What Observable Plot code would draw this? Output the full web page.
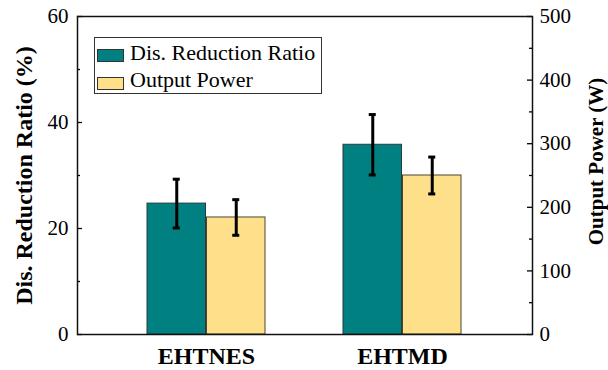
<!DOCTYPE html>
<html><head><meta charset="utf-8">
<script src="https://cdn.jsdelivr.net/npm/d3@7"></script>
<script src="https://cdn.jsdelivr.net/npm/@observablehq/plot@0.6"></script>
<style>
body{margin:0;background:#fff;}
#wrap{position:relative;width:608px;height:370px;font-family:"Liberation Serif","Times New Roman",serif;}
#legend{position:absolute;left:94px;top:37px;width:228px;height:57px;box-sizing:border-box;border:1px solid #333;background:#fff;}
.sw{position:absolute;left:1.7px;width:27px;height:13px;box-sizing:border-box;border:1px solid #333;}
.lt{position:absolute;left:35px;line-height:26px;height:26px;font-size:22px;color:#000;white-space:nowrap;font-family:"Liberation Serif","Times New Roman",serif;}
</style></head>
<body><div id="wrap"></div>
<script>
const groups = ["EHTNES", "EHTMD"];
const ratio = [24.7, 35.8];
const ratioErr = [4.6, 5.7];
const power = [184, 250];
const powerErr = [28, 29];
const leftTicks = [0, 20, 40, 60];
const leftMinor = [10, 30, 50];
const rightTicks = [0, 100, 200, 300, 400, 500];
const rightMinor = [50, 150, 250, 350, 450];
const seriesNames = ["Dis. Reduction Ratio", "Output Power"];
const colors = ["#008080", "#FFE08A"];
const yTitle = "Dis. Reduction Ratio (%)";
const y2Title = "Output Power (W)";

const k = 60 / 500; // right axis -> left axis units
const rows = groups.map((g, i) => ({group: g, ratio: ratio[i], rErr: ratioErr[i], power: power[i] * k, pErr: powerErr[i] * k}));

const W = 608, H = 370, ML = 77, MR = 76, MT = 16, MB = 36;
const FW = W - ML - MR;
const pI = 0.396, pO = 0.353;
const bw = FW / (groups.length - pI + 2 * pO) * (1 - pI);
const half = bw / 2;
const capHalf = 4;
const serif = "Liberation Serif, Times New Roman, serif";

const chart = Plot.plot({
  width: W, height: H,
  marginLeft: ML, marginRight: MR, marginTop: MT, marginBottom: MB,
  style: {fontFamily: serif, fontSize: "21px", background: "#fff", color: "#000", overflow: "visible"},
  x: {type: "band", domain: groups, paddingInner: pI, paddingOuter: pO, axis: null},
  y: {domain: [0, 60], axis: null},
  marks: [
    Plot.barY(rows, {x: "group", y: "ratio", fill: colors[0], stroke: "#2b3a3a", strokeWidth: 1, insetRight: half}),
    Plot.barY(rows, {x: "group", y: "power", fill: colors[1], stroke: "#4a4630", strokeWidth: 1, insetLeft: half}),
    // error bars
    Plot.tickY(rows, {x: "group", y: d => d.ratio + d.rErr, stroke: "#000", strokeWidth: 3, insetLeft: half / 2 - capHalf, insetRight: half * 1.5 - capHalf}),
    Plot.tickY(rows, {x: "group", y: d => d.ratio - d.rErr, stroke: "#000", strokeWidth: 3, insetLeft: half / 2 - capHalf, insetRight: half * 1.5 - capHalf}),
    Plot.tickY(rows, {x: "group", y: d => d.power + d.pErr, stroke: "#000", strokeWidth: 3, insetLeft: half * 1.5 - capHalf, insetRight: half / 2 - capHalf}),
    Plot.tickY(rows, {x: "group", y: d => d.power - d.pErr, stroke: "#000", strokeWidth: 3, insetLeft: half * 1.5 - capHalf, insetRight: half / 2 - capHalf}),
    Plot.ruleX(rows, {x: "group", y1: d => d.ratio - d.rErr, y2: d => d.ratio + d.rErr, stroke: "#000", strokeWidth: 3, dx: -half / 2}),
    Plot.ruleX(rows, {x: "group", y1: d => d.power - d.pErr, y2: d => d.power + d.pErr, stroke: "#000", strokeWidth: 3, dx: half / 2}),
    // inward ticks
    Plot.ruleY(leftTicks, {y: d => d, stroke: "#000", strokeWidth: 1.3, insetRight: FW - 5}),
    Plot.ruleY(leftMinor, {y: d => d, stroke: "#000", strokeWidth: 1.3, insetRight: FW - 3}),
    Plot.ruleY(rightTicks, {y: d => d * k, stroke: "#000", strokeWidth: 1.3, insetLeft: FW - 5}),
    Plot.ruleY(rightMinor, {y: d => d * k, stroke: "#000", strokeWidth: 1.3, insetLeft: FW - 3}),
    Plot.frame({stroke: "#111", strokeWidth: 1.5}),
    // axes labels
    Plot.axisY(leftTicks, {anchor: "left", tickSize: 0, tickPadding: 9, label: null, fontSize: 21, fontFamily: serif}),
    Plot.axisY(rightTicks.map(v => v * k), {anchor: "right", tickSize: 0, tickPadding: 7, label: null, fontSize: 21, fontFamily: serif, tickFormat: v => String(Math.round(v / k))}),
    Plot.axisX(groups, {anchor: "bottom", tickSize: 0, tickPadding: 12, label: null, fontSize: 24, fontWeight: "bold", fontFamily: serif}),
    Plot.text([yTitle], {frameAnchor: "left", textAnchor: "middle", rotate: -90, dx: -53, fontSize: 24, fontWeight: "bold", fontFamily: serif, fill: "#000"}),
    Plot.text([y2Title], {frameAnchor: "right", textAnchor: "middle", rotate: -90, dx: 64, dy: -14, fontSize: 21, fontWeight: "bold", fontFamily: serif, fill: "#000"})
  ]
});

const wrap = document.getElementById("wrap");
wrap.appendChild(chart);
const lg = document.createElement("div");
lg.id = "legend";
const swTops = [11.3, 38.7];
const txTops = [1.6, 28.6];
seriesNames.forEach((name, i) => {
  const sw = document.createElement("div");
  sw.className = "sw";
  sw.style.top = swTops[i] + "px";
  sw.style.background = colors[i];
  lg.appendChild(sw);
  const t = document.createElement("div");
  t.className = "lt";
  t.style.top = txTops[i] + "px";
  t.textContent = name;
  lg.appendChild(t);
});
wrap.appendChild(lg);
</script>
</body></html>
